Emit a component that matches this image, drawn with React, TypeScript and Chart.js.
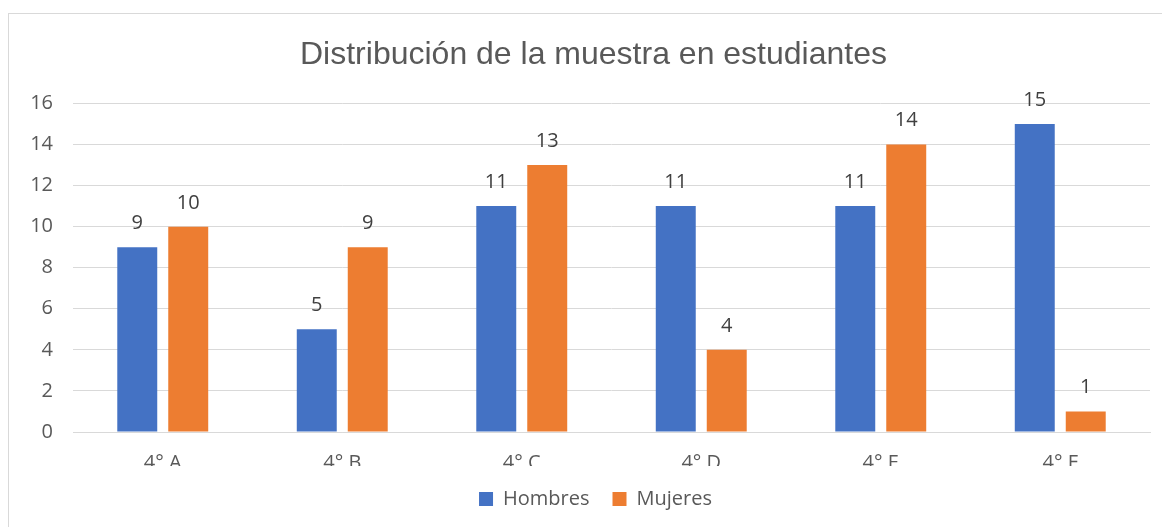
import React, { useEffect, useRef } from "react";
import { Chart, registerables } from "chart.js";

Chart.register(...registerables);

const categories = ["4° A", "4° B", "4° C", "4° D", "4° E", "4° F"];
const hombres = [9, 5, 11, 11, 11, 15];
const mujeres = [10, 9, 13, 4, 14, 1];
const yTicks = [0, 2, 4, 6, 8, 10, 12, 14, 16];

const FONT = "'Open Sans', 'Noto Sans', sans-serif";
const TEXT = "#595959";
const GRID = "#d9d9d9";

const valueLabels = {
  id: "valueLabels",
  afterDatasetsDraw(chart: any) {
    const ctx = chart.ctx;
    ctx.save();
    ctx.font = `20px ${FONT}`;
    ctx.fillStyle = "#404040";
    ctx.textAlign = "center";
    ctx.textBaseline = "alphabetic";
    chart.data.datasets.forEach((ds: any, i: number) => {
      const meta = chart.getDatasetMeta(i);
      meta.data.forEach((bar: any, j: number) => {
        ctx.fillText(String(ds.data[j]), bar.x, bar.y - 18);
      });
    });
    ctx.restore();
  },
};

// Shift the title and legend boxes so they centre like the reference.
const shiftBlocks = {
  id: "shiftBlocks",
  afterLayout(chart: any) {
    const dx = 16;
    if (chart.legend) {
      chart.legend.left += dx;
      chart.legend.right += dx;
    }
    if (chart.titleBlock) {
      chart.titleBlock.left += dx - 2;
      chart.titleBlock.right += dx - 2;
    }
  },
};

export default function App() {
  const ref = useRef<HTMLCanvasElement>(null);
  useEffect(() => {
    if (!ref.current) return;
    const chart = new Chart(ref.current, {
      type: "bar",
      data: {
        labels: categories,
        datasets: [
          {
            label: "Hombres",
            data: hombres,
            backgroundColor: "#4472c4",
            categoryPercentage: 0.568,
            barPercentage: 0.784,
          },
          {
            label: "Mujeres",
            data: mujeres,
            backgroundColor: "#ed7d31",
            categoryPercentage: 0.568,
            barPercentage: 0.784,
          },
        ],
      },
      options: {
        animation: false,
        responsive: false,
        layout: { padding: { left: 0, right: 20, top: 6, bottom: 8 } },
        scales: {
          x: {
            grid: { display: false, drawTicks: false },
            border: { display: true, color: GRID, width: 1 },
            ticks: { color: TEXT, font: { family: FONT, size: 20 }, padding: 19 },
            afterFit: (axis: any) => {
              axis.height = 34;
            },
          },
          y: {
            min: 0,
            max: 16,
            afterBuildTicks: (axis: any) => {
              axis.ticks = yTicks.map((v) => ({ value: v }));
            },
            afterFit: (axis: any) => {
              axis.width = 64;
            },
            grid: { color: GRID, lineWidth: 1, drawTicks: false },
            border: { display: false },
            ticks: { color: TEXT, font: { family: FONT, size: 20 }, padding: 20 },
          },
        },
        plugins: {
          title: {
            display: true,
            text: "Distribución de la muestra en estudiantes",
            color: TEXT,
            font: { family: "'Liberation Sans', Arial, sans-serif", size: 32, weight: "normal" },
            padding: { top: 16, bottom: 29 },
          },
          legend: {
            position: "bottom",
            labels: {
              color: TEXT,
              font: { family: FONT, size: 20 },
              boxWidth: 14,
              boxHeight: 14,
              padding: 23,
            },
          },
          tooltip: { enabled: false },
        },
      },
      plugins: [valueLabels, shiftBlocks],
    });
    return () => chart.destroy();
  }, []);

  return (
    <div
      style={{
        marginTop: 5,
        borderTop: `1px solid ${GRID}`,
        borderLeft: `1px solid ${GRID}`,
        width: 1161,
        height: 513,
      }}
    >
      <canvas ref={ref} width={1161} height={513} style={{ display: "block" }} />
    </div>
  );
}
